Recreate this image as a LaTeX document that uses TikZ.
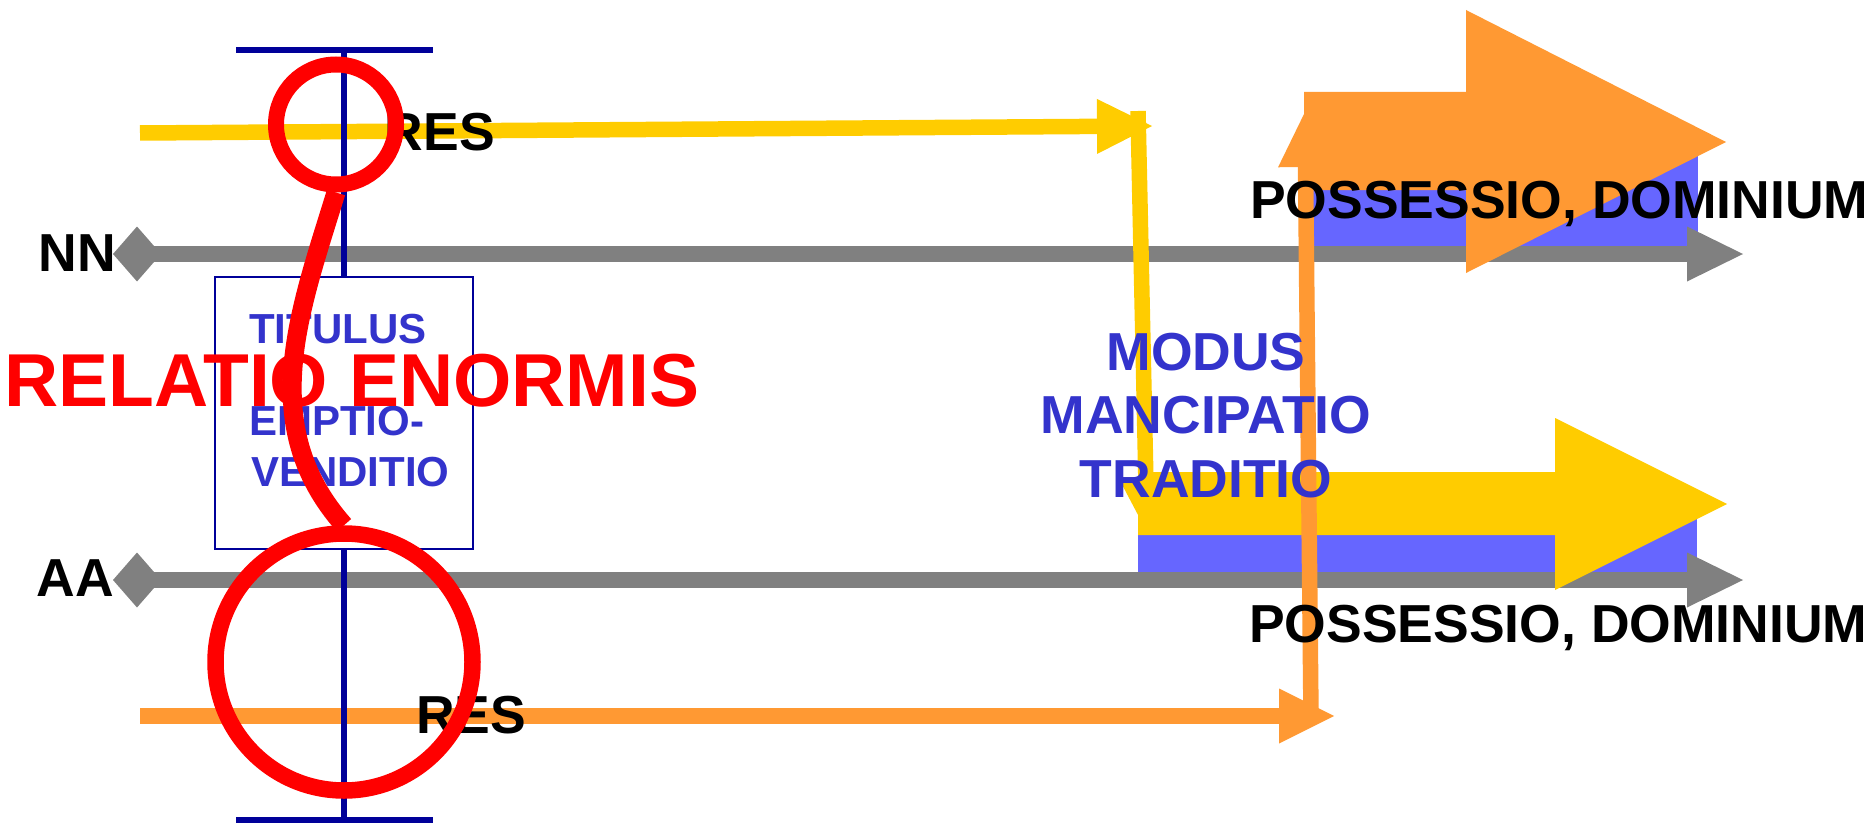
\documentclass[tikz,border=0pt]{standalone}
\usepackage{fontspec}
\setmainfont{Liberation Sans}
\usetikzlibrary{arrows.meta}

\definecolor{resyellow}{HTML}{FFCC00}
\definecolor{resorange}{HTML}{FF9933}
\definecolor{linegray}{HTML}{808080}
\definecolor{posblue}{HTML}{6666FF}
\definecolor{textblue}{HTML}{3333CC}
\definecolor{navy}{HTML}{000099}

\begin{document}
\begin{tikzpicture}[x=1pt,y=-1pt,
  lbl/.style={inner sep=0pt,font=\fontsize{53.5}{60}\selectfont\bfseries},
  blbl/.style={lbl,text=textblue},
  tlbl/.style={inner sep=0pt,text=textblue,font=\fontsize{42}{48}\selectfont\bfseries},
  timeline/.style={linegray,line width=15.5pt,
    {Diamond[length=48pt,width=55pt,line width=0pt]}-{Triangle[length=56pt,width=55pt,line width=0pt]}},
  resline/.style={line width=15.5pt,-{Triangle[length=55pt,width=55pt,line width=0pt]}},
  navyline/.style={navy,line width=5.5pt},
  ring/.style={draw=red,line width=16pt,circle,inner sep=0pt}]
 \useasboundingbox (0,0) rectangle (1872,824);
% possessio blocks
 \fill[posblue] (1304,150) rectangle (1698,246);
 \fill[posblue] (1138,500) rectangle (1697,573);
% NN and AA
 \draw[timeline] (113,254) -- (1743,254);
 \draw[timeline] (113,580) -- (1743,580);
 \node[lbl,anchor=base east] (nn) at (116,271) {NN};
 \node[lbl,anchor=base east] (aa) at (114,596) {AA};
% big arrows
 \fill[resorange] (1304,92) -- (1466,92) -- (1466,10) -- (1726,142) -- (1466,273) -- (1466,190) -- (1304,190) -- cycle;
 \fill[resyellow] (1138,472) -- (1555,472) -- (1555,418) -- (1727,504) -- (1555,590) -- (1555,535) -- (1138,535) -- cycle;
% res
 \draw[resline,resyellow] (140,133) -- (1152,126);
 \draw[resline,resorange] (140,716) -- (1334,716);
 \draw[resline,resyellow] (1138,111) -- (1147,532);
 \draw[resline,resorange] (1311,716) -- (1305,112);
% titulus
 \node[draw=navy,line width=2pt,minimum width=258pt,minimum height=272pt,inner sep=0pt] (box) at (344,413) {};
 \draw[navyline] (236,50) -- (433,50);
 \draw[navyline] (236,820) -- (433,820);
 \draw[navyline] (box.north) -- (344,50);
 \draw[navyline] (box.south) -- (344,820);
 \node[tlbl,anchor=base west] (titulus) at (249,343) {TITULUS};
 \node[tlbl,anchor=base west] (emptio) at (249,435) {EMPTIO-};
 \node[tlbl,anchor=base west] (venditio) at (251,486) {VENDITIO};
 \node[lbl,anchor=base east] (restop) at (495,150) {RES};
 \node[lbl,anchor=base west] (resbot) at (416,733) {RES};
% modus
 \node[blbl,anchor=base] (modus) at (1206,370) {MODUS};
 \node[blbl,anchor=base] (mancipatio) at (1206,433) {MANCIPATIO};
 \node[blbl,anchor=base] (traditio) at (1206,497) {TRADITIO};
 \node[lbl,anchor=base west] (postop) at (1250,218) {POSSESSIO, DOMINIUM};
 \node[lbl,anchor=base west] (posbot) at (1249,642) {POSSESSIO, DOMINIUM};
% relatio
 \node[ring,minimum size=120pt] (ringtop) at (336,124.5) {};
 \node[ring,line width=16.5pt,minimum size=257pt] (ringbot) at (344,662) {};
 \draw[red,line width=19pt] (ringtop.south) .. controls (300,310) and (255,425) .. (ringbot.north);
 \node[inner sep=0pt,anchor=base west,text=red,font=\fontsize{75}{80}\selectfont\bfseries] (relatio) at (4.5,406) {RELATIO ENORMIS};
\end{tikzpicture}
\end{document}
